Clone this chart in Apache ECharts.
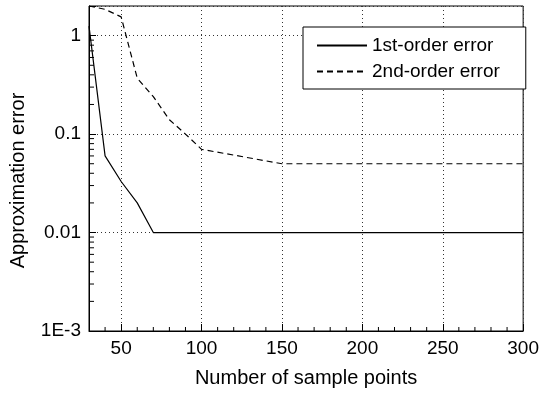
<!DOCTYPE html>
<html>
<head>
<meta charset="utf-8">
<script src="https://cdn.jsdelivr.net/npm/echarts@6/dist/echarts.min.js"></script>
<style>
  html, body { margin: 0; padding: 0; background: #fff; }
  #chart { width: 542px; height: 393px; }
</style>
</head>
<body>
<div id="chart"></div>
<script>
// ===== approximation error vs sample points =====

const FONT = '"Liberation Sans", Arial, sans-serif';

const firstX = [30, 40, 50, 60, 70, 300];
const firstY = [1.25, 0.06, 0.033, 0.02, 0.01, 0.01];

const secondX = [30, 40, 50, 60, 70, 80, 90, 100, 150, 300];
const secondY = [2.0, 1.85, 1.55, 0.37, 0.24, 0.14, 0.1, 0.07, 0.05, 0.05];

const seriesNames = ['1st-order error', '2nd-order error'];
const yTickLabels = { '-3': '1E-3', '-2': '0.01', '-1': '0.1', '0': '1' };

// minor ticks (x every 10, y at 2..9 per decade)
const xMinor = [];
for (let v = 40; v < 300; v += 10) if (v % 50 !== 0) xMinor.push(v);
const yMinor = [];
[-3, -2, -1, 0].forEach(e => {
  for (let m = 2; m <= 9; m++) {
    const v = m * Math.pow(10, e);
    if (v < 2) yMinor.push(v);
  }
});
const minorData = xMinor.map(v => [v, 0.001, 0]).concat(yMinor.map(v => [30, v, 1]));

const pair = (xs, ys) => xs.map((x, i) => [x, ys[i]]);

const chart = echarts.init(document.getElementById('chart'), null, { renderer: 'canvas' });
chart.setOption({
  animation: false,
  backgroundColor: '#fff',
  textStyle: { fontFamily: FONT, color: '#000' },
  grid: { left: 86, right: 17, top: 6, bottom: 60, show: true, borderColor: '#000', borderWidth: 1 },
  legend: {
    data: seriesNames,
    orient: 'vertical',
    left: 303, top: 27,
    itemWidth: 50, itemHeight: 18, itemGap: 7,
    padding: [9, 26, 8, 13],
    borderColor: '#000', borderWidth: 1,
    backgroundColor: '#fff',
    itemStyle: { opacity: 0 },   // hide the circle marker, keep the line sample
    textStyle: { fontFamily: FONT, fontSize: 19, color: '#000' }
  },
  xAxis: {
    type: 'value', min: 30, max: 300,
    name: 'Number of sample points', nameLocation: 'middle', nameGap: 37,
    nameTextStyle: { fontFamily: FONT, fontSize: 20, color: '#000' },
    axisLine: { lineStyle: { color: '#000', width: 1 } },
    axisTick: { inside: true, length: 7, lineStyle: { color: '#000' } },
    axisLabel: { fontFamily: FONT, fontSize: 19, color: '#000', margin: 8,
      formatter: v => (v % 50 === 0 ? String(v) : '') },
    splitLine: { show: true, lineStyle: { color: '#333', type: [1, 3], width: 1 } }
  },
  yAxis: {
    type: 'log', logBase: 10, min: 0.001, max: 2,
    name: 'Approximation error', nameLocation: 'middle', nameGap: 61,
    nameTextStyle: { fontFamily: FONT, fontSize: 20, color: '#000', padding: [0, 24, 0, 0] },
    axisLine: { show: true, lineStyle: { color: '#000', width: 1 } },
    axisTick: { inside: true, length: 7, lineStyle: { color: '#000' } },
    axisLabel: { fontFamily: FONT, fontSize: 19, color: '#000', margin: 8,
      formatter: v => {
        const e = Math.log10(v), r = Math.round(e);
        return Math.abs(e - r) < 1e-6 && yTickLabels[r] ? yTickLabels[r] : '';
      } },
    splitLine: { show: true, lineStyle: { color: '#333', type: [1, 3], width: 1 } }
  },
  series: [
    {
      name: seriesNames[0], type: 'line', data: pair(firstX, firstY),
      symbol: 'none', lineStyle: { color: '#000', width: 1.2 }, itemStyle: { color: '#000' }
    },
    {
      name: seriesNames[1], type: 'line', data: pair(secondX, secondY),
      symbol: 'none', lineStyle: { color: '#000', width: 1.2, type: [6, 4] }, itemStyle: { color: '#000' }
    },
    {
      type: 'custom', silent: true, clip: false, data: minorData,
      renderItem: (params, api) => {
        const p = api.coord([api.value(0), api.value(1)]);
        const isY = api.value(2) === 1;
        return {
          type: 'line',
          shape: isY ? { x1: p[0], y1: p[1], x2: p[0] + 5, y2: p[1] }
                     : { x1: p[0], y1: p[1], x2: p[0], y2: p[1] - 4 },
          style: { stroke: '#000', lineWidth: 1 }
        };
      }
    }
  ]
});
</script>
</body>
</html>
